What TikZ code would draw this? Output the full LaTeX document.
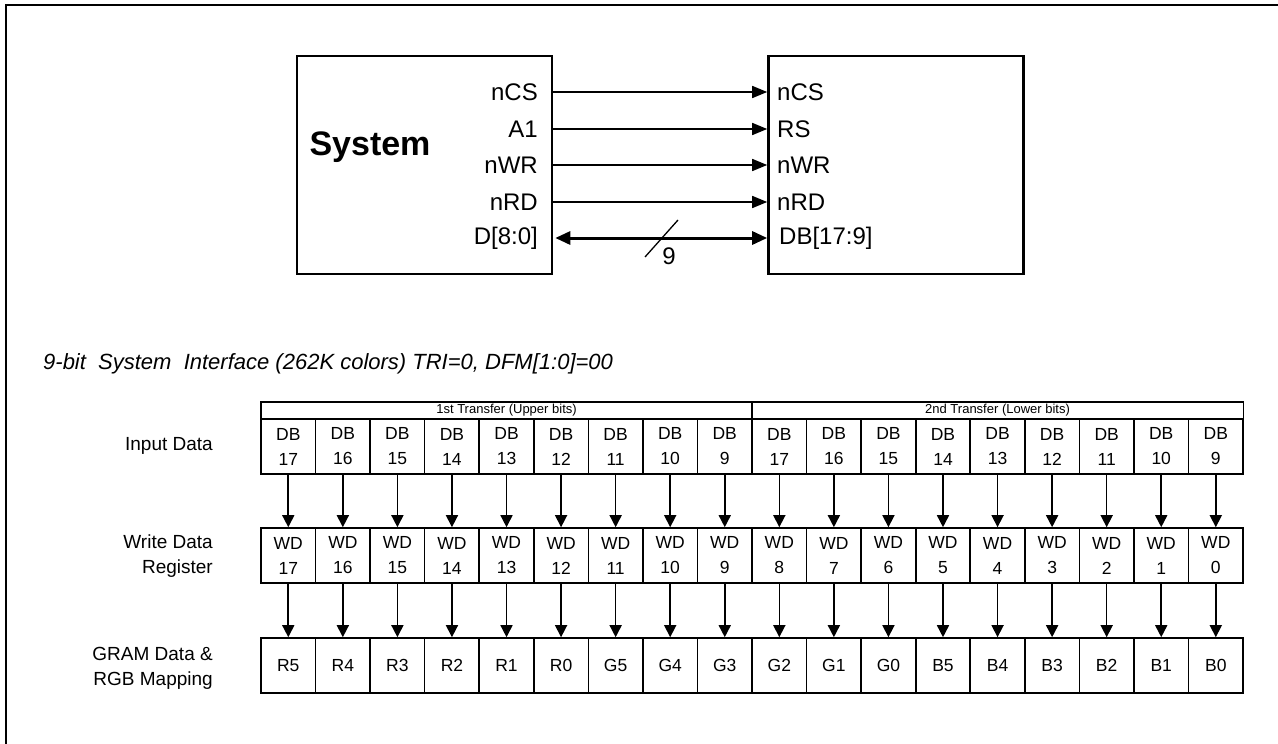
\documentclass[tikz,border=0pt]{standalone}
\usepackage{fontspec}
\setmainfont{Liberation Sans}
\usetikzlibrary{arrows.meta,positioning}
\newcommand{\setfs}[2]{\fontsize{#1}{#2}\selectfont}
\definecolor{lineBlack}{RGB}{0,0,0}

\begin{document}
\begin{tikzpicture}[x=1pt,y=-1pt,
  blk/.style={draw=lineBlack,line width=2.6pt,minimum width=255pt,minimum height=218pt,inner sep=0pt},
  sig/.style={inner sep=0pt,font=\setfs{24}{28}},
  sigarrow/.style={line width=1.6pt,-{Triangle[length=15pt,width=12pt]}},
  hdr/.style={draw=lineBlack,line width=1.1pt,minimum width=491.04pt,minimum height=17pt,inner sep=0pt,font=\setfs{13}{15}},
  cell/.style={draw=lineBlack,line width=1.6pt,minimum width=54.56pt,minimum height=55pt,inner sep=0pt,align=center,font=\setfs{17.5}{25}},
  rowlbl/.style={inner sep=0pt,anchor=east,align=right,font=\setfs{19}{25}},
  down/.style={line width=1.6pt,-{Triangle[length=12pt,width=12pt]}}]
\useasboundingbox (0,0) rectangle (1278,744);
\draw[line width=2.6pt] (6,750) -- (6,5) -- (1285,5);

% top: system and lcd blocks
\node[blk] (sys) at (424.5,165) {};
\node[blk] (lcd) at (896,165) {};
\node[inner sep=0pt,font=\bfseries\setfs{34}{40}] (sysname) at (370,147) {System};

\foreach \nm/\a/\b/\yy in {cs/nCS/nCS/92, rs/A1/RS/129, wr/nWR/nWR/165, rd/nRD/nRD/202}{
  \node[sig,anchor=east] (s\nm) at (538,\yy) {\a};
  \node[sig,anchor=west] (l\nm) at (777,\yy) {\b};
  \draw[sigarrow] (sys.east |- s\nm) -- (lcd.west |- s\nm);
}
\node[sig,anchor=east] (sdb) at (538,238) {D[8:0]};
\node[sig,anchor=west] (ldb) at (779,238) {DB[17:9]};
\draw[line width=3pt,{Triangle[length=15pt,width=13pt]}-{Triangle[length=15pt,width=13pt]}]
  ([xshift=2pt]sys.east |- sdb) -- (lcd.west |- sdb);
\coordinate (bus) at (662,238);
\draw[line width=1.3pt] ([shift={(-17,19)}]bus) -- ([shift={(16,-18)}]bus);
\node[sig] (buswidth) at (669,256) {9};

% title
\node[inner sep=0pt,anchor=west,font=\itshape\setfs{22}{26}] (title) at (43,364)
  {9-bit\ \ System\ \ Interface (262K colors) TRI=0, DFM[1:0]=00};

% bottom: transfer table
\node[hdr] (hdA) at (506.52,410.5) {1st Transfer (Upper bits)};
\node[hdr] (hdB) at (997.56,410.5) {2nd Transfer (Lower bits)};

\foreach \i/\d/\w/\g in {0/17/17/R5,1/16/16/R4,2/15/15/R3,3/14/14/R2,4/13/13/R1,5/12/12/R0,
  6/11/11/G5,7/10/10/G4,8/9/9/G3,9/17/8/G2,10/16/7/G1,11/15/6/G0,
  12/14/5/B5,13/13/4/B4,14/12/3/B3,15/11/2/B2,16/10/1/B1,17/9/0/B0}{
  \node[cell] (db\i) at ({261+54.56*(\i+0.5)},446.5) {DB\\\d};
  \node[cell] (wd\i) at ({261+54.56*(\i+0.5)},555.5) {WD\\\w};
  \node[cell] (gr\i) at ({261+54.56*(\i+0.5)},665.5) {\g};
  \draw[down] (db\i) -- (wd\i);
  \draw[down] (wd\i) -- (gr\i);
}

\node[rowlbl] (lblIn) at (213,446) {Input Data};
\node[rowlbl] (lblWd) at (213,556) {Write Data\\Register};
\node[rowlbl] (lblGr) at (213,668) {GRAM Data \&\\RGB Mapping};
\end{tikzpicture}
\end{document}
